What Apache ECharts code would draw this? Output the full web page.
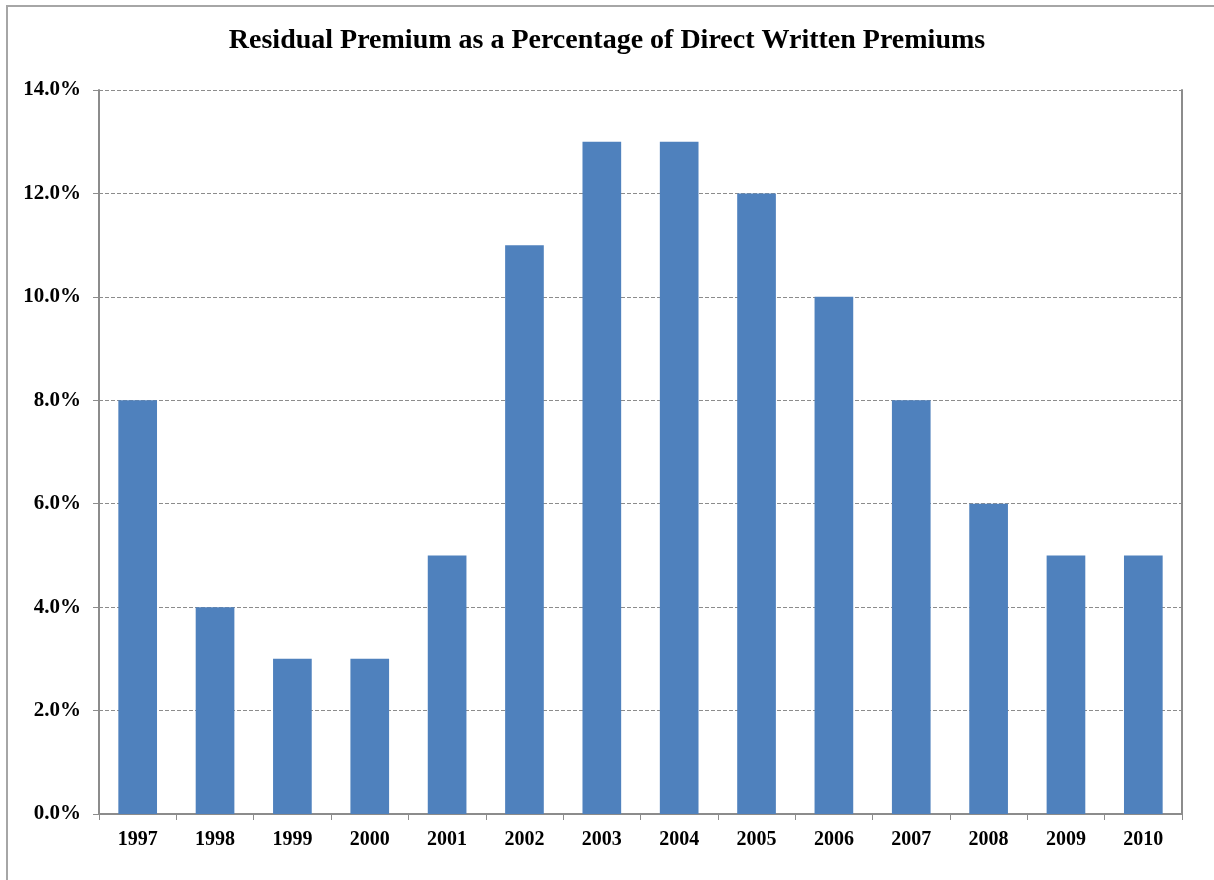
<!DOCTYPE html>
<html><head><meta charset="utf-8">
<script src="https://cdn.jsdelivr.net/npm/echarts@6/dist/echarts.min.js"></script>
<style>html,body{margin:0;padding:0;background:#fff}#c{width:1214px;height:880px}</style>
</head><body><div id="c"></div>
<script>
const categories = ['1997','1998','1999','2000','2001','2002','2003','2004','2005','2006','2007','2008','2009','2010'];
const values = [8, 4, 3, 3, 5, 11, 13, 13, 12, 10, 8, 6, 5, 5];
const titleText = 'Residual Premium as a Percentage of Direct Written Premiums';

const chart = echarts.init(document.getElementById('c'), null, {renderer: 'canvas'});
const font = '"Liberation Serif", "Times New Roman", serif';
chart.setOption({
  animation: false,
  backgroundColor: '#fff',
  title: {
    text: titleText, left: 'center', top: 22,
    textStyle: {fontFamily: font, fontWeight: 'bold', fontSize: 28, color: '#000'}
  },
  graphic: [{
    type: 'rect', shape: {x: 7, y: 6, width: 1220, height: 890},
    style: {fill: 'none', stroke: '#a6a6a6', lineWidth: 2}, silent: true
  }],
  grid: {left: 99, right: 32, top: 90, bottom: 66},
  xAxis: {
    type: 'category', data: categories,
    axisLine: {lineStyle: {color: '#8c8c8c', width: 2}},
    axisTick: {show: true, length: 6, alignWithLabel: false, lineStyle: {color: '#8c8c8c'}},
    axisLabel: {fontFamily: font, fontWeight: 'bold', fontSize: 20, color: '#000', margin: 16}
  },
  yAxis: [{
    type: 'value', min: 0, max: 14, interval: 2,
    axisLine: {show: true, lineStyle: {color: '#8c8c8c', width: 2}},
    axisTick: {show: true, length: 6, lineStyle: {color: '#8c8c8c'}},
    axisLabel: {fontFamily: font, fontWeight: 'bold', fontSize: 21, color: '#000', margin: 18,
      formatter: v => v.toFixed(1) + '%'},
    splitLine: {show: true, lineStyle: {color: '#8c8c8c', type: [4, 2], width: 1}}
  }, {
    type: 'value', min: 0, max: 14, interval: 2, position: 'right',
    axisLine: {show: true, lineStyle: {color: '#8c8c8c', width: 2}},
    axisTick: {show: false}, axisLabel: {show: false}, splitLine: {show: false}
  }],
  series: [{
    type: 'bar', data: values, barWidth: '50%',
    itemStyle: {color: '#4F81BD'}
  }]
});
</script></body></html>
